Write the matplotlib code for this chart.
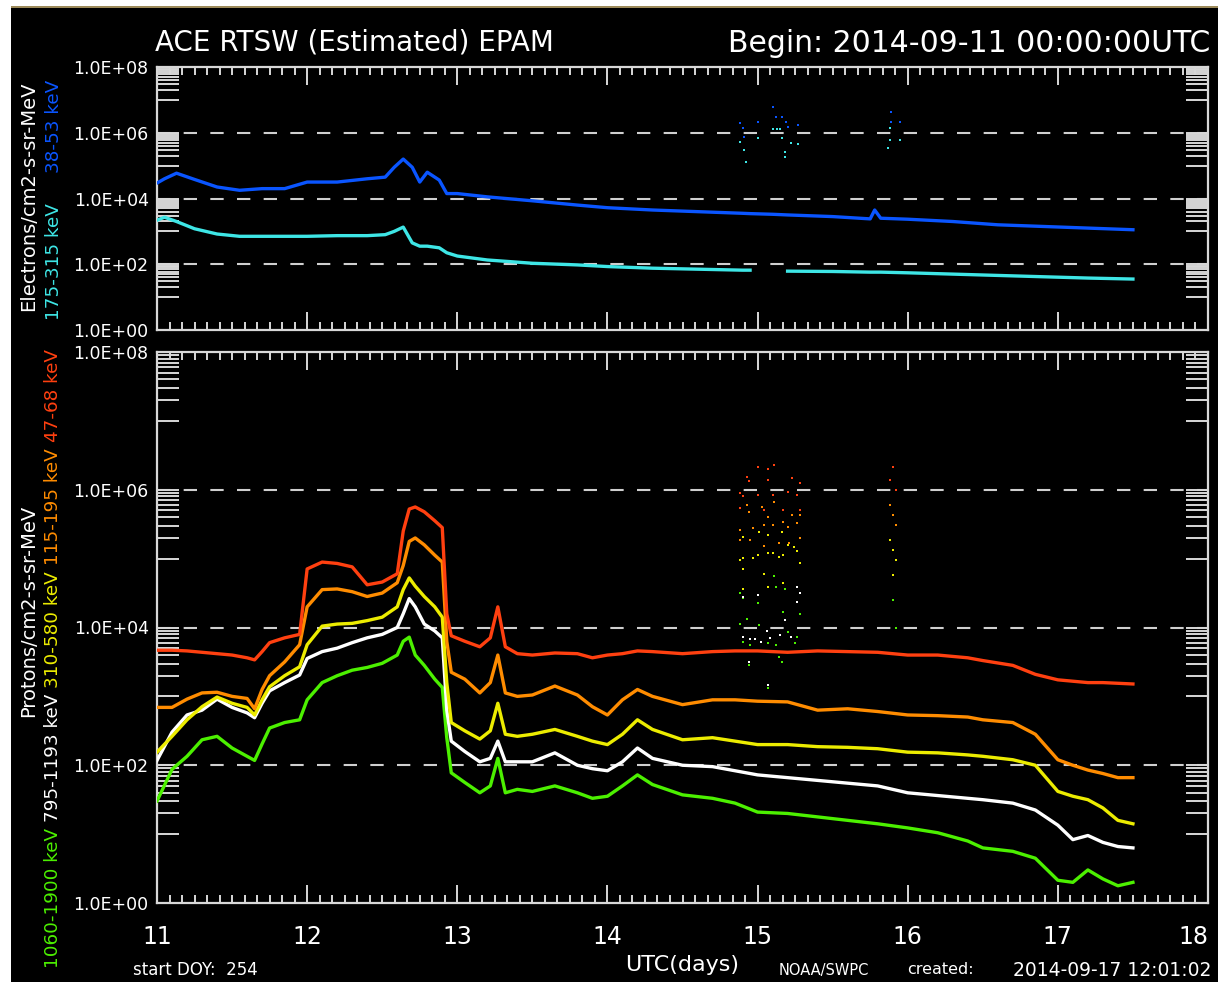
import numpy as np
import matplotlib.pyplot as plt
from matplotlib.patches import Rectangle
from matplotlib.ticker import FixedLocator, FuncFormatter, NullFormatter

plt.rcParams['font.family'] = 'DejaVu Sans'
plt.rcParams['lines.scale_dashes'] = False

# values are log10(flux), time is UTC day of Sept 2014
t_e = [11.0, 11.05, 11.13, 11.25, 11.4, 11.55, 11.7, 11.85, 12.0, 12.2,
       12.4, 12.52, 12.58, 12.64, 12.7, 12.75, 12.8, 12.88, 12.93, 13.0,
       13.2, 13.5, 13.8, 14.0, 14.3, 14.6, 14.9, 14.95, 15.1, 15.2,
       15.5, 15.75, 15.78, 15.82, 16.0, 16.3, 16.6, 16.9, 17.2, 17.5]
e38_53 = [4.47, 4.60, 4.77, 4.58, 4.35, 4.25, 4.30, 4.30, 4.50, 4.50,
          4.60, 4.65, 4.95, 5.20, 4.95, 4.50, 4.80, 4.56, 4.15, 4.15,
          4.05, 3.93, 3.80, 3.72, 3.65, 3.60, 3.55, 3.54, 3.52, 3.50,
          3.45, 3.38, 3.65, 3.40, 3.37, 3.30, 3.20, 3.15, 3.10, 3.05]
e175_315 = [3.34, 3.43, 3.30, 3.08, 2.92, 2.85, 2.85, 2.85, 2.85, 2.87,
            2.87, 2.90, 3.00, 3.13, 2.65, 2.55, 2.55, 2.50, 2.35, 2.25,
            2.13, 2.03, 1.98, 1.93, 1.88, 1.85, 1.82, 1.82, np.nan, 1.79,
            1.78, 1.76, 1.76, 1.76, 1.74, 1.70, 1.66, 1.62, 1.58, 1.55]

t_p = [11.0, 11.1, 11.2, 11.3, 11.4, 11.5, 11.6, 11.65, 11.7, 11.75,
       11.85, 11.95, 12.0, 12.1, 12.2, 12.3, 12.4, 12.5, 12.6, 12.64,
       12.68, 12.72, 12.78, 12.85, 12.9, 12.93, 12.96, 13.05, 13.15, 13.22,
       13.27, 13.32, 13.4, 13.5, 13.65, 13.8, 13.9, 14.0, 14.1, 14.2,
       14.3, 14.5, 14.7, 14.85, 15.0, 15.2, 15.4, 15.6, 15.8, 16.0,
       16.2, 16.4, 16.5, 16.7, 16.85, 17.0, 17.1, 17.2, 17.3, 17.4,
       17.5]
p47_68 = [3.67, 3.67, 3.66, 3.64, 3.62, 3.60, 3.56, 3.53, 3.65, 3.78,
          3.85, 3.90, 4.85, 4.95, 4.93, 4.88, 4.62, 4.66, 4.78, 5.40,
          5.72, 5.75, 5.68, 5.55, 5.45, 4.20, 3.88, 3.80, 3.72, 3.85,
          4.30, 3.72, 3.62, 3.60, 3.63, 3.62, 3.56, 3.60, 3.62, 3.66,
          3.65, 3.62, 3.65, 3.66, 3.66, 3.64, 3.66, 3.65, 3.64, 3.60,
          3.60, 3.56, 3.52, 3.45, 3.32, 3.24, 3.22, 3.20, 3.20, 3.19,
          3.18]
p115_195 = [2.84, 2.84, 2.96, 3.05, 3.06, 3.00, 2.97, 2.82, 3.10, 3.30,
            3.50, 3.75, 4.30, 4.55, 4.56, 4.52, 4.45, 4.50, 4.65, 4.90,
            5.25, 5.30, 5.20, 5.05, 4.95, 3.80, 3.35, 3.25, 3.05, 3.20,
            3.60, 3.05, 3.00, 3.02, 3.15, 3.02, 2.85, 2.73, 2.95, 3.10,
            3.00, 2.88, 2.95, 2.95, 2.93, 2.92, 2.80, 2.82, 2.78, 2.73,
            2.72, 2.70, 2.66, 2.62, 2.45, 2.08, 2.00, 1.93, 1.88, 1.82,
            1.82]
p310_580 = [2.19, 2.42, 2.66, 2.85, 2.99, 2.90, 2.84, 2.73, 2.95, 3.14,
            3.30, 3.43, 3.75, 4.02, 4.05, 4.06, 4.10, 4.15, 4.30, 4.55,
            4.72, 4.60, 4.45, 4.30, 4.15, 3.20, 2.62, 2.50, 2.38, 2.50,
            2.90, 2.45, 2.42, 2.45, 2.52, 2.42, 2.35, 2.30, 2.45, 2.66,
            2.52, 2.37, 2.40, 2.35, 2.30, 2.30, 2.27, 2.26, 2.24, 2.19,
            2.18, 2.15, 2.13, 2.08, 2.00, 1.62, 1.55, 1.50, 1.38, 1.20,
            1.15]
p795_1193 = [2.07, 2.48, 2.73, 2.80, 2.96, 2.84, 2.76, 2.69, 2.90, 3.08,
             3.20, 3.31, 3.55, 3.65, 3.70, 3.78, 3.85, 3.90, 4.00, 4.20,
             4.42, 4.30, 4.05, 3.95, 3.85, 2.80, 2.35, 2.20, 2.05, 2.10,
             2.35, 2.05, 2.05, 2.05, 2.18, 2.00, 1.95, 1.92, 2.05, 2.25,
             2.10, 2.00, 1.98, 1.92, 1.86, 1.82, 1.78, 1.74, 1.70, 1.60,
             1.56, 1.52, 1.50, 1.45, 1.35, 1.13, 0.92, 0.98, 0.88, 0.82,
             0.80]
p1060_1900 = [1.48, 1.94, 2.13, 2.37, 2.42, 2.25, 2.13, 2.07, 2.31, 2.54,
              2.62, 2.66, 2.95, 3.20, 3.30, 3.38, 3.42, 3.48, 3.60, 3.80,
              3.86, 3.60, 3.45, 3.25, 3.13, 2.40, 1.89, 1.75, 1.60, 1.70,
              2.10, 1.60, 1.65, 1.62, 1.70, 1.60, 1.52, 1.55, 1.70, 1.86,
              1.72, 1.57, 1.52, 1.45, 1.32, 1.30, 1.25, 1.20, 1.15, 1.09,
              1.02, 0.90, 0.80, 0.75, 0.65, 0.33, 0.30, 0.48, 0.35, 0.25,
              0.30]

# scattered high points on 14.9 - 15.3 and ~15.9
burst_e38_t = [14.88, 14.9, 14.91, 15.0, 15.1, 15.12, 15.16, 15.19, 15.2, 15.27, 15.89, 15.89, 15.95]
burst_e38_v = [6.29, 6.14, 5.87, 6.32, 6.78, 6.47, 6.47, 6.32, 6.17, 6.23, 6.63, 6.32, 6.32]
burst_e175_t = [14.88, 14.91, 14.92, 15.0, 15.1, 15.13, 15.15, 15.16, 15.18, 15.18, 15.22, 15.27,
                15.88, 15.88, 15.87, 15.95]
burst_e175_v = [5.71, 5.47, 5.11, 5.84, 6.11, 6.11, 6.11, 5.84, 5.41, 5.26, 5.68, 5.65,
                6.14, 5.78, 5.53, 5.78]
burst_p47_t = [14.88, 14.88, 14.9, 14.93, 14.94, 15.0, 15.0, 15.04, 15.07, 15.07, 15.1,
               15.11, 15.17, 15.2, 15.23, 15.26, 15.28, 15.28, 15.88, 15.9, 15.92]
burst_p47_v = [5.95, 5.73, 5.91, 6.18, 6.12, 6.33, 5.92, 5.70, 6.30, 6.14, 5.92,
               6.36, 5.70, 5.97, 6.17, 5.92, 6.10, 5.70, 6.14, 6.33, 5.99]
burst_p115_t = [14.88, 14.88, 14.93, 14.94, 14.95, 14.97, 15.03, 15.04, 15.04, 15.07, 15.1, 15.11,
                15.14, 15.17, 15.2, 15.21, 15.23, 15.26, 15.28, 15.28, 15.88, 15.9, 15.92]
burst_p115_v = [5.41, 5.27, 5.78, 5.67, 5.27, 5.44, 5.75, 5.49, 5.18, 5.60, 5.49, 5.82,
                5.22, 5.53, 5.46, 5.22, 5.63, 5.52, 5.63, 5.30, 5.78, 5.63, 5.49]
burst_p310_t = [14.88, 14.9, 14.9, 14.9, 14.9, 14.97, 15.0, 15.01, 15.04, 15.07, 15.07, 15.07, 15.1,
                15.14, 15.16, 15.17, 15.17, 15.2, 15.24, 15.26, 15.28, 15.88, 15.9, 15.92, 15.9]
burst_p310_v = [4.98, 5.31, 5.01, 4.85, 4.56, 5.01, 5.05, 5.38, 4.77, 5.34, 5.08, 4.59, 5.08,
                5.02, 5.38, 5.05, 4.64, 5.20, 5.17, 5.11, 4.93, 5.27, 5.12, 4.98, 4.76]
burst_p795_t = [14.9, 14.9, 14.94, 14.95, 14.98, 15.0, 15.02, 15.06, 15.07, 15.08, 15.09, 15.15,
                15.18, 15.22, 15.26, 15.26, 15.28]
burst_p795_v = [4.44, 3.86, 3.50, 3.83, 3.83, 4.47, 3.79, 3.95, 3.16, 3.85, 3.64, 3.89,
                4.11, 3.86, 4.59, 4.37, 4.50]
burst_p1060_t = [14.88, 14.88, 14.9, 14.9, 14.93, 14.94, 14.95, 15.0, 15.01, 15.05, 15.07, 15.07,
                 15.11, 15.12, 15.12, 15.14, 15.16, 15.17, 15.18, 15.2, 15.25, 15.26, 15.28, 15.9, 15.92]
burst_p1060_v = [4.50, 4.05, 4.43, 3.79, 4.12, 3.45, 3.74, 4.35, 4.03, 3.66, 3.77, 3.12,
                 4.75, 4.59, 3.74, 3.57, 3.50, 4.22, 4.56, 3.93, 3.77, 3.86, 4.20, 4.40, 3.99]

c_e38 = '#0a55ff'
c_e175 = '#3ee6e6'
c_p47 = '#ff4010'
c_p115 = '#ff8c00'
c_p310 = '#ecec00'
c_p795 = '#ffffff'
c_p1060 = '#4cf000'
fg = '#d8d8d8'
grid_c = '#cfcfcf'

W, H = 1218.0, 982.0
fig = plt.figure(figsize=(W / 100, H / 100), dpi=100)
fig.patch.set_facecolor('white')
# black plotting area with the thin gold line on top
fig.add_artist(Rectangle((11 / W, 0), 1, 1 - 8 / H, transform=fig.transFigure,
                         facecolor='black', edgecolor='none', zorder=-5))
fig.add_artist(Rectangle((11 / W, 1 - 8 / H), 1, 2 / H, transform=fig.transFigure,
                         facecolor='#9c8a5a', edgecolor='none', zorder=-5))

ax_e = fig.add_axes([157 / W, 1 - 330 / H, 1051 / W, 263 / H])
ax_p = fig.add_axes([157 / W, 1 - 903 / H, 1051 / W, 551 / H])

y_major = [1e0, 1e2, 1e4, 1e6, 1e8]
y_minor = [k * 10.0 ** e for e in (1, 3, 5, 7) for k in range(1, 10)]
x_major = list(range(11, 19))
x_minor = [11 + k / 12 for k in range(85) if k % 12]


def style_axes(ax, show_x):
    ax.set_facecolor('black')
    ax.set_yscale('log')
    ax.set_xlim(11, 18)
    ax.set_ylim(1, 1e8)
    for s in ax.spines.values():
        s.set_color(fg)
        s.set_linewidth(1.6)
    ax.yaxis.set_major_locator(FixedLocator(y_major))
    ax.yaxis.set_minor_locator(FixedLocator(y_minor))
    ax.yaxis.set_major_formatter(FuncFormatter(lambda v, p: f'{v:.1E}'))
    ax.yaxis.set_minor_formatter(NullFormatter())
    ax.xaxis.set_major_locator(FixedLocator(x_major))
    ax.xaxis.set_minor_locator(FixedLocator(x_minor))
    ax.xaxis.set_major_formatter(FuncFormatter(lambda v, p: f'{v:.0f}'))
    ax.tick_params(axis='y', which='both', direction='in', length=16, width=1.4,
                   left=True, right=True, color=fg, labelcolor='white',
                   labelsize=12.5, pad=6)
    ax.tick_params(axis='x', which='major', direction='in', length=13, width=1.4,
                   top=True, bottom=True, color=fg)
    ax.tick_params(axis='x', which='minor', direction='in', length=6, width=1.4,
                   top=True, bottom=True, color=fg)
    ax.tick_params(axis='x', labelbottom=show_x, labelsize=17, labelcolor='white', pad=16)
    for v in (1e2, 1e4, 1e6):
        ax.axhline(v, color=grid_c, lw=1.5, dashes=(9.6, 9.6), zorder=1)


style_axes(ax_e, False)
style_axes(ax_p, True)

ax_e.plot(t_e, 10 ** np.array(e175_315), color=c_e175, lw=2.4, zorder=3)
ax_e.plot(t_e, 10 ** np.array(e38_53), color=c_e38, lw=2.4, zorder=3)
ax_e.scatter(burst_e175_t, 10 ** np.array(burst_e175_v), s=3, marker='s', color=c_e175, lw=0, zorder=3)
ax_e.scatter(burst_e38_t, 10 ** np.array(burst_e38_v), s=3, marker='s', color=c_e38, lw=0, zorder=3)

proton_series = [
    (p1060_1900, burst_p1060_t, burst_p1060_v, c_p1060),
    (p795_1193, burst_p795_t, burst_p795_v, c_p795),
    (p310_580, burst_p310_t, burst_p310_v, c_p310),
    (p115_195, burst_p115_t, burst_p115_v, c_p115),
    (p47_68, burst_p47_t, burst_p47_v, c_p47),
]
for vals, bt, bv, col in proton_series:
    ax_p.plot(t_p, 10 ** np.array(vals), color=col, lw=2.4, zorder=3)
    ax_p.scatter(bt, 10 ** np.array(bv), s=4, marker='s', color=col, lw=0, zorder=3)

# titles and footer
fig.text(155 / W, 1 - 43 / H, 'ACE RTSW (Estimated) EPAM', color='white',
         fontsize=20, ha='left', va='center')
fig.text(1210 / W, 1 - 43 / H, 'Begin: 2014-09-11 00:00:00UTC', color='white',
         fontsize=21.5, ha='right', va='center')
fig.text(133 / W, 1 - 970 / H, 'start DOY:  254', color='white', fontsize=12,
         ha='left', va='center')
fig.text(682 / W, 1 - 965 / H, 'UTC(days)', color='white', fontsize=16,
         ha='center', va='center')
fig.text(779 / W, 1 - 970 / H, 'NOAA/SWPC', color='white', fontsize=10.5,
         ha='left', va='center')
fig.text(907 / W, 1 - 970 / H, 'created:', color='white', fontsize=11.5,
         ha='left', va='center')
fig.text(1211 / W, 1 - 970 / H, '2014-09-17 12:01:02', color='white', fontsize=13.5,
         ha='right', va='center')

# vertical axis labels
fig.text(29 / W, 1 - 196 / H, 'Electrons/cm2-s-sr-MeV', color='white', fontsize=14,
         rotation=90, ha='center', va='center')
fig.text(29 / W, 1 - 611 / H, 'Protons/cm2-s-sr-MeV', color='white', fontsize=14,
         rotation=90, ha='center', va='center')
fig.text(54 / W, 1 - 320 / H, '175-315 keV', color=c_e175, fontsize=13.2,
         rotation=90, ha='center', va='bottom')
fig.text(54 / W, 1 - 173 / H, '38-53 keV', color=c_e38, fontsize=13.2,
         rotation=90, ha='center', va='bottom')

renderer = fig.canvas.get_renderer()
y = 1 - 968 / H
for txt, col in [('1060-1900 keV ', c_p1060), ('795-1193 keV ', c_p795),
                 ('310-580 keV ', c_p310), ('115-195 keV ', c_p115),
                 ('47-68 keV', c_p47)]:
    t = fig.text(53 / W, y, txt, color=col, fontsize=13.2, rotation=90,
                 ha='center', va='bottom')
    y += t.get_window_extent(renderer).height / fig.bbox.height

# last day label sits at the right frame, keep it inside the image
fig.canvas.draw()
ax_p.get_xticklabels()[-1].set_horizontalalignment('right')
ax_p.get_xticklabels()[-1].set_x(18.0)

fig.savefig('out.png', dpi=100, facecolor=fig.get_facecolor())
